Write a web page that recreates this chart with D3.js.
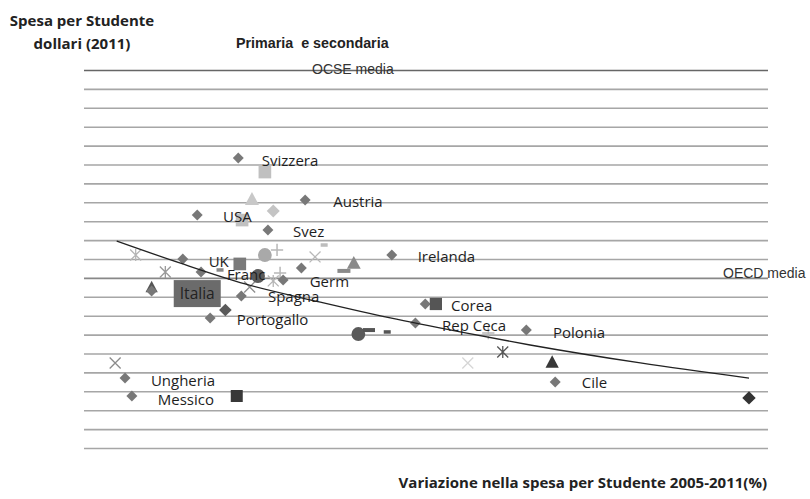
<!DOCTYPE html>
<html><head><meta charset="utf-8">
<script src="https://cdn.jsdelivr.net/npm/d3@7"></script>
<style>body{margin:0;background:#fff}svg{display:block}</style>
</head><body><svg id="c" width="810" height="499"></svg>
<script>
// ---------- DATA (x: % change 2005-2011, y: spending per student, USD 2011) ----------
const yTicks = d3.range(0, 20001, 1000);
const oecdAverage = 9000;
const topLineValue = 20000;

const diamondMid = [[0.3,15340],[9.1,13120],[-5.1,12330],[4.2,11530],[20.5,10210],[-7.0,10000],
  [-4.6,9310],[-11.1,8310],[8.6,9520],[6.2,8890],[0.7,8040],[-3.4,6880],[24.9,7620],[23.6,6610],
  [38.2,6240],[42.0,3490],[-14.6,3700],[-13.7,2750]];
const diamondDark = [[-1.4,7300]];
const diamondDarkest = [[67.5,2650]];
const diamondLight = [[4.9,12540]];
const squareLight = [[3.8,14600],[0.8,12060]];
const squareMid = [[0.5,9740]];
const squareDark = [[26.3,7620]];
const squareDarkest = [[0.1,2750]];
const triLight = [[2.1,13170]];
const triMid = [[15.5,9790]];
const triDark = [[-11.1,8520]];
const triDarkest = [[41.6,4550]];
const circleLight = [[3.8,10210]];
const circleDark = [[2.9,9100],[16.1,6030]];
const crossMid = [[-15.9,4500],[1.8,8520]];
const crossLight = [[10.4,10110]];
const crossLighter = [[30.5,4500]];
const starLight = [[-13.2,10210],[4.9,8840]];
const starMid = [[-9.3,9310]];
const starDark = [[35.1,5080]];
const plusLight = [[5.4,10480],[5.8,9260],[33.2,6080]];
const dashMid = [[-2.1,9420]];
const dashLight = [[11.6,10740]];
const dashLongMid = [[14.2,9370]];
const dashLongDark = [[17.5,6240]];
const dashDark = [[19.9,6140]];
const italiaPoint = [-5.1, 8170];

const trendX = [-15.7,-7.4,1.2,11.1,20.3,29.5,38.7,53.2,67.5];
const trendY = [10950,9790,8680,7720,6880,6140,5450,4500,3700];

const labelNames = ["Svizzera","Austria","USA","Svez","Irelanda","UK","Franc","Germ","Spagna",
  "Portogallo","Corea","Rep Ceca","Polonia","Cile","Ungheria","Messico"];
const labelX = [3.4,12.8,-1.7,7.5,23.9,-3.6,-1.2,9.7,4.2,0.1,28.3,27.1,41.7,45.5,-11.2,-10.3];
const labelY = [15190,13020,12220,11430,10110,9840,9150,8780,7990,6770,7560,6480,6090,3440,3590,2560];

// ---------- CHART ----------
const svg = d3.select("#c");
svg.append("rect").attr("width",810).attr("height",499).attr("fill","#fff");
const x = d3.scaleLinear().domain([-20,70]).range([84,768]);
const y = d3.scaleLinear().domain([0,20000]).range([448,70]);

// gridlines
const gAxis = svg.append("g").attr("transform",`translate(${x.range()[0]},0)`)
  .call(d3.axisRight(y).tickValues(yTicks).tickSize(x.range()[1]-x.range()[0]).tickFormat(""));
gAxis.select(".domain").remove();
gAxis.selectAll(".tick line")
  .attr("stroke", d => d===topLineValue ? "#666" : (d===oecdAverage ? "#888" : "#a6a6a6"))
  .attr("stroke-width", 1.6);

// symbols
const symDiamond = {draw(c,s){const r=Math.sqrt(s/2);c.moveTo(0,-r);c.lineTo(r,0);c.lineTo(0,r);c.lineTo(-r,0);c.closePath();}};
const symTri = {draw(c,s){const r=Math.sqrt(s*2)/2;c.moveTo(0,-r);c.lineTo(r,r*0.85);c.lineTo(-r,r*0.85);c.closePath();}};
const symX = {draw(c,s){const r=Math.sqrt(s)/2;c.moveTo(-r,-r);c.lineTo(r,r);c.moveTo(-r,r);c.lineTo(r,-r);}};
const symStar = {draw(c,s){const r=Math.sqrt(s)/2;c.moveTo(-r,-r);c.lineTo(r,r);c.moveTo(-r,r);c.lineTo(r,-r);c.moveTo(0,-r*1.1);c.lineTo(0,r*1.1);}};
const symPlus = {draw(c,s){const r=Math.sqrt(s)/2;c.moveTo(-r,0);c.lineTo(r,0);c.moveTo(0,-r);c.lineTo(0,r);}};

const marks = svg.append("g");
function drawFilled(data, type, size, fill){
  marks.selectAll(null).data(data).enter().append("path")
    .attr("d", d3.symbol(type, size))
    .attr("transform", d => `translate(${x(d[0])},${y(d[1])})`)
    .attr("fill", fill);
}
function drawStroked(data, type, size, stroke, w){
  marks.selectAll(null).data(data).enter().append("path")
    .attr("d", d3.symbol(type, size))
    .attr("transform", d => `translate(${x(d[0])},${y(d[1])})`)
    .attr("fill","none").attr("stroke", stroke).attr("stroke-width", w);
}
function drawDash(data, w, h, fill){
  marks.selectAll(null).data(data).enter().append("rect")
    .attr("x", d => x(d[0]) - w/2).attr("y", d => y(d[1]) - h/2)
    .attr("width", w).attr("height", h).attr("fill", fill);
}

drawFilled(squareLight, d3.symbolSquare, 160, "#c0c0c0");
drawFilled(triLight, symTri, 98, "#c8c8c8");
drawFilled(diamondLight, symDiamond, 85, "#c4c4c4");
drawFilled(circleLight, d3.symbolCircle, 150, "#a9a9a9");
drawStroked(plusLight, symPlus, 150, "#b8b8b8", 1.5);
drawStroked(crossLight, symX, 120, "#b8b8b8", 1.3);
drawStroked(crossLighter, symX, 120, "#d6d6d6", 1.3);
drawStroked(starLight, symStar, 120, "#b5b5b5", 1.3);
drawDash(dashLight, 7, 3.5, "#bdbdbd");
drawFilled(squareMid, d3.symbolSquare, 160, "#7a7a7a");
drawFilled(triMid, symTri, 95, "#8a8a8a");
drawDash(dashLongMid, 13, 4, "#8a8a8a");
drawDash(dashMid, 7, 3.5, "#888");
drawStroked(crossMid, symX, 120, "#8c8c8c", 1.3);
drawStroked(starMid, symStar, 120, "#999", 1.3);
drawFilled(triDark, symTri, 75, "#555");
drawFilled(diamondMid, symDiamond, 60, "#787878");
drawFilled(diamondDark, symDiamond, 80, "#5a5a5a");
drawFilled(circleDark, d3.symbolCircle, 150, "#5a5a5a");
drawDash(dashLongDark, 12, 4, "#555");
drawDash(dashDark, 7, 3.5, "#555");
drawFilled(squareDark, d3.symbolSquare, 150, "#555");
drawStroked(starDark, symStar, 120, "#555", 1.3);
drawFilled(triDarkest, symTri, 88, "#383838");
drawFilled(squareDarkest, d3.symbolSquare, 144, "#383838");
drawFilled(diamondDarkest, symDiamond, 90, "#333");

// trend line
const trend = trendX.map((v,i)=>[v, trendY[i]]);
svg.append("path").datum(trend)
  .attr("d", d3.line().x(d=>x(d[0])).y(d=>y(d[1])).curve(d3.curveMonotoneX))
  .attr("fill","none").attr("stroke","#222").attr("stroke-width",1.3);

// Italia highlighted box
const ib = svg.append("g").attr("transform",`translate(${x(italiaPoint[0])},${y(italiaPoint[1])})`);
ib.append("rect").attr("x",-23.5).attr("y",-13.5).attr("width",47).attr("height",27).attr("fill","#6b6b6b");
ib.append("text").attr("text-anchor","middle").attr("dy","0.36em")
  .attr("font-family","'Open Sans', sans-serif").attr("font-size",15.5).attr("fill","#222").text("Italia");

// labels
svg.append("g").selectAll("text").data(labelNames).enter().append("text")
  .attr("x",(d,i)=>x(labelX[i])).attr("y",(d,i)=>y(labelY[i])).attr("dy","0.36em")
  .attr("font-family","'Open Sans', sans-serif").attr("font-size",15).attr("fill","#1e1e1e")
  .text(d=>d);

// reference line labels
svg.append("text").attr("x",312).attr("y",y(topLineValue)+4)
  .attr("font-family","'Liberation Sans', Arial, sans-serif").attr("font-size",14).attr("fill","#333").text("OCSE media");
svg.append("text").attr("x",723).attr("y",y(oecdAverage))
  .attr("font-family","'Liberation Sans', Arial, sans-serif").attr("font-size",14).attr("fill","#333").text("OECD media");

// titles
svg.append("text").attr("x",82).attr("y",25.5).attr("text-anchor","middle")
  .attr("font-family","'Open Sans', sans-serif").attr("font-weight","bold").attr("font-size",15).attr("fill","#222")
  .text("Spesa per Studente");
svg.append("text").attr("x",82).attr("y",48.5).attr("text-anchor","middle")
  .attr("font-family","'Open Sans', sans-serif").attr("font-weight","bold").attr("font-size",15).attr("fill","#222")
  .text("dollari (2011)");
svg.append("text").attr("x",236).attr("y",48).attr("xml:space","preserve")
  .attr("font-family","'Liberation Sans', Arial, sans-serif").attr("font-weight","bold").attr("font-size",14.3).attr("fill","#222")
  .text("Primaria  e secondaria");
svg.append("text").attr("x",767).attr("y",488).attr("text-anchor","end")
  .attr("font-family","'Open Sans', sans-serif").attr("font-weight","bold").attr("font-size",15).attr("fill","#222")
  .text("Variazione nella spesa per Studente 2005-2011(%)");
</script></body></html>
